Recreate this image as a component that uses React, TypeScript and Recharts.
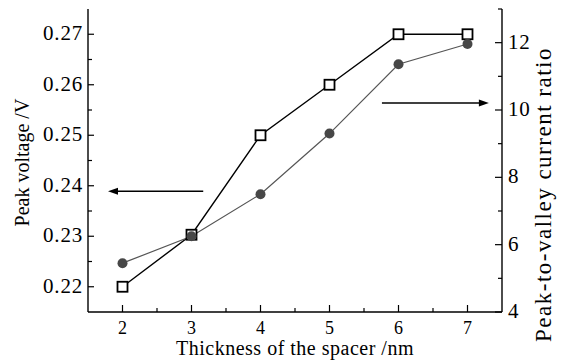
import React from "react";
import { LineChart, Line, XAxis, YAxis, ReferenceLine } from "recharts";

const FONT = "Liberation Serif";

const thickness = [2, 3, 4, 5, 6, 7];
const peakVoltage = [0.22, 0.2303, 0.25, 0.26, 0.27, 0.27];
const pvcr = [5.45, 6.25, 7.5, 9.3, 11.36, 11.96];

const xTicks = [2, 2.5, 3, 3.5, 4, 4.5, 5, 5.5, 6, 6.5, 7];
const leftTicks = [0.22, 0.225, 0.23, 0.235, 0.24, 0.245, 0.25, 0.255, 0.26, 0.265, 0.27];
const rightTicks = [4, 5, 6, 7, 8, 9, 10, 11, 12, 13];

// arrow annotations (data coords)
const leftArrow = [{ x: 3.17, y: 0.2389 }, { x: 1.79, y: 0.2389 }];
const rightArrow = [{ x: 5.76, y: 10.21 }, { x: 7.31, y: 10.21 }];

const data = thickness.map((t, i) => ({ x: t, v: peakVoltage[i], r: pvcr[i] }));

const isWhole = (v: number, step: number) => Math.abs(v / step - Math.round(v / step)) < 1e-6;

const txt = (size: number, extra: any = {}) => ({ fontFamily: FONT, fontSize: size, fill: "#000", ...extra });

const BottomTick = (props: any) => {
  const { x, y, payload } = props;
  const major = isWhole(payload.value, 1);
  return (
    <g>
      <line x1={x} x2={x} y1={y} y2={y - (major ? 7 : 4)} stroke="#000" strokeWidth={1.2} />
      {major && (
        <text x={x} y={y + 22} textAnchor="middle" style={txt(18)}>
          {payload.value}
        </text>
      )}
    </g>
  );
};

const LeftTick = (props: any) => {
  const { x, y, payload } = props;
  const major = isWhole(payload.value, 0.01);
  return (
    <g>
      <line x1={x} x2={x + (major ? 6 : 4)} y1={y} y2={y} stroke="#000" strokeWidth={1.2} />
      {major && (
        <text x={x - 5} y={y + 6} textAnchor="end" style={txt(21, { letterSpacing: 0.8 })}>
          {payload.value.toFixed(2)}
        </text>
      )}
    </g>
  );
};

const RightTick = (props: any) => {
  const { x, y, payload } = props;
  const major = isWhole(payload.value, 2);
  return (
    <g>
      <line x1={x} x2={x - (major ? 7 : 4)} y1={y} y2={y} stroke="#000" strokeWidth={1.2} />
      {major && (
        <text x={x + 6} y={y + 6} textAnchor="start" style={txt(21, { letterSpacing: 0.8 })}>
          {payload.value}
        </text>
      )}
    </g>
  );
};

const Square = (props: any) => {
  const { cx, cy, index } = props;
  return (
    <rect key={`sq-${index}`} x={cx - 5} y={cy - 5} width={10} height={10} fill="#fff" stroke="#000" strokeWidth={1.8} />
  );
};

const Dot = (props: any) => {
  const { cx, cy, index } = props;
  return <circle key={`ci-${index}`} cx={cx} cy={cy} r={5} fill="#474747" stroke="none" />;
};

const Arrow = (props: any) => {
  const { x1, y1, x2, y2 } = props;
  const dir = Math.sign(x2 - x1) || 1;
  const len = 10;
  const hw = 3.5;
  return (
    <g>
      <line x1={x1} y1={y1} x2={x2 - dir * len * 0.8} y2={y2} stroke="#000" strokeWidth={1.6} />
      <polygon points={`${x2},${y2} ${x2 - dir * len},${y2 - hw} ${x2 - dir * len},${y2 + hw}`} fill="#000" />
    </g>
  );
};

export default function App() {
  return (
    <div
      style={{ position: "absolute", left: 0, top: 0, width: 566, height: 361, background: "#fff", fontFamily: FONT }}
    >
      <LineChart
        width={566}
        height={361}
        data={data}
        margin={{ top: 9, right: 0, bottom: 0, left: 0 }}
        style={{ fontFamily: FONT }}
      >
        <XAxis
          xAxisId="top"
          orientation="top"
          type="number"
          dataKey="x"
          domain={[1.5, 7.5]}
          height={0}
          tick={false}
          tickLine={false}
          axisLine={{ stroke: "#000", strokeWidth: 1.4 }}
        />
        <XAxis
          type="number"
          dataKey="x"
          domain={[1.5, 7.5]}
          ticks={xTicks}
          interval={0}
          height={49}
          tickSize={0}
          tickMargin={0}
          tickLine={false}
          tick={<BottomTick />}
          axisLine={{ stroke: "#000", strokeWidth: 1.4 }}
          label={{
            value: "Thickness of the spacer /nm",
            position: "insideBottom",
            offset: 6,
            style: txt(20, { letterSpacing: 0.5 }),
          }}
        />
        <YAxis
          yAxisId="left"
          domain={[0.215, 0.275]}
          ticks={leftTicks}
          interval={0}
          width={88}
          tickSize={0}
          tickMargin={0}
          tickLine={false}
          tick={<LeftTick />}
          axisLine={{ stroke: "#000", strokeWidth: 1.4 }}
          label={{
            value: "Peak voltage /V",
            angle: -90,
            position: "insideLeft",
            offset: 22,
            dy: 2,
            style: txt(20, { textAnchor: "middle" }),
          }}
        />
        <YAxis
          yAxisId="right"
          orientation="right"
          domain={[4, 13]}
          ticks={rightTicks}
          interval={0}
          width={64}
          tickSize={0}
          tickMargin={0}
          tickLine={false}
          tick={<RightTick />}
          axisLine={{ stroke: "#000", strokeWidth: 1.4 }}
          label={{
            value: "Peak-to-valley current ratio",
            angle: -90,
            position: "insideRight",
            offset: 23,
            dy: 34,
            style: txt(23, { textAnchor: "middle", letterSpacing: 1.5 }),
          }}
        />
        <ReferenceLine yAxisId="left" segment={leftArrow} shape={<Arrow />} ifOverflow="visible" />
        <ReferenceLine yAxisId="right" segment={rightArrow} shape={<Arrow />} ifOverflow="visible" />
        <Line
          yAxisId="left"
          dataKey="v"
          stroke="#000"
          strokeWidth={1.4}
          dot={<Square />}
          activeDot={false}
          isAnimationActive={false}
        />
        <Line
          yAxisId="right"
          dataKey="r"
          stroke="#555"
          strokeWidth={1.2}
          dot={<Dot />}
          activeDot={false}
          isAnimationActive={false}
        />
      </LineChart>
    </div>
  );
}
